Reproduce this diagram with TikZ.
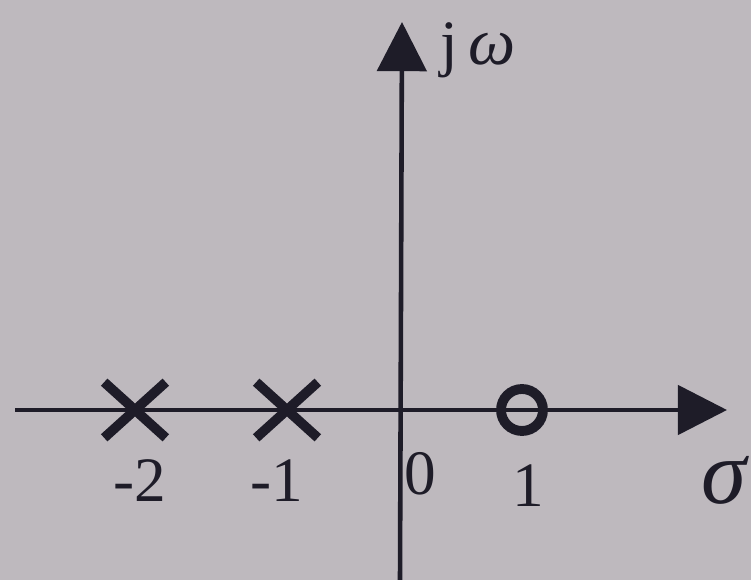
\documentclass[tikz,border=0pt]{standalone}
\usepackage{fontspec}
\setmainfont{Liberation Serif}
\usetikzlibrary{arrows.meta, shapes.misc}
\definecolor{paper}{RGB}{190,185,190}
\definecolor{ink}{RGB}{30,28,40}

\begin{document}
\begin{tikzpicture}[x=0.02cm, y=-0.02cm,
    axis/.style = {draw=ink, line width=2.6pt, -{Triangle[length=28pt, width=28pt]}},
    pole/.style = {cross out, draw=ink, line width=5.5pt, minimum width=1.04cm, minimum height=0.92cm, inner sep=0pt},
    zero/.style = {circle, draw=ink, line width=5.6pt, minimum size=0.84cm, inner sep=0pt},
    tick/.style = {text=ink, font=\fontsize{36}{40}\selectfont, inner sep=0pt}
]

\fill[paper] (0,0) rectangle (751,580);
\useasboundingbox (0,0) rectangle (751,580);

\coordinate (xstart) at (15,410);
\coordinate (xend) at (727,410);
\coordinate (ystart) at (400,580);
\coordinate (yend) at (402,22);

\draw [axis] (xstart) -- (xend);
\draw [axis] (ystart) -- (yend);

% poles and zero
\node (p2) [pole] at (135,410) {};
\node (p1) [pole] at (287,410) {};
\node (z1) [zero] at (522,410) {};

\node (l2) [tick] at (140,481) {-2};
\node (l1) [tick] at (277,481) {-1};
\node (l0) [tick] at (420,474) {0};
\node (r1) [tick] at (528,486) {1};
\node (sig) [text=ink, inner sep=0pt, font=\fontsize{52}{58}\selectfont\itshape] at (724,480) {σ};
\node (jw) [text=ink, inner sep=0pt, anchor=base west, font=\fontsize{36}{40}\selectfont] at (440,65) {j\,{\fontsize{38}{42}\selectfont\itshape ω}};

\end{tikzpicture}
\end{document}
